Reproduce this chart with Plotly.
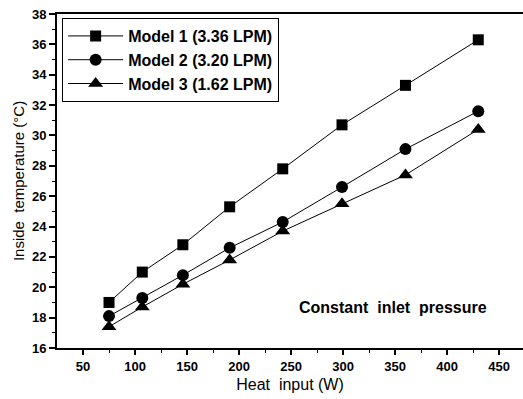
import plotly.graph_objects as go

heat_input = [75, 107, 146, 191, 242, 299, 360, 430]
model1 = [19.0, 21.0, 22.8, 25.3, 27.8, 30.7, 33.3, 36.3]
model2 = [18.1, 19.3, 20.8, 22.6, 24.3, 26.6, 29.1, 31.6]
model3 = [17.4, 18.7, 20.2, 21.8, 23.7, 25.5, 27.4, 30.4]
names = ["Model 1 (3.36 LPM)", "Model 2 (3.20 LPM)", "Model 3 (1.62 LPM)"]
symbols = ["square", "circle", "triangle-up"]
sizes = [11, 12, 13]

fig = go.Figure()
for name, ys, sym, sz in zip(names, [model1, model2, model3], symbols, sizes):
    fig.add_trace(go.Scatter(
        x=heat_input, y=ys, name=name, mode="lines+markers",
        line=dict(color="black", width=1),
        marker=dict(symbol=sym, size=sz, color="black"),
    ))

fig.add_annotation(
    text="<b>Constant \u00a0inlet \u00a0pressure</b>", x=348, y=18.7, xref="x", yref="y",
    showarrow=False, font=dict(family="Liberation Sans, Arial", size=16, color="black"),
)

fig.update_layout(
    width=523, height=399,
    margin=dict(l=57, r=0, t=14, b=51),
    paper_bgcolor="white", plot_bgcolor="white",
    font=dict(family="Liberation Sans, Arial", color="black"),
    showlegend=True,
    legend=dict(
        x=0.011, y=0.988, xanchor="left", yanchor="top",
        bordercolor="black", borderwidth=1, bgcolor="white",
        font=dict(size=16, family="Liberation Sans, Arial", weight="bold"),
        tracegroupgap=0, itemsizing="trace", itemwidth=55,
    ),
    xaxis=dict(
        range=[25, 473], showgrid=False, zeroline=False,
        showline=True, linecolor="black", linewidth=2, mirror=True,
        ticks="outside", ticklen=5, tickwidth=1.5, tickcolor="black",
        tickvals=[50, 100, 150, 200, 250, 300, 350, 400, 450],
        tickfont=dict(size=13, weight="bold"),
        minor=dict(tickvals=[75, 125, 175, 225, 275, 325, 375, 425], ticks="outside", ticklen=3, tickcolor="black", tickwidth=1),
        title=dict(text="Heat \u00a0input (W)", font=dict(size=16), standoff=6),
    ),
    yaxis=dict(
        range=[16, 38], showgrid=False, zeroline=False,
        showline=True, linecolor="black", linewidth=2, mirror=False,
        ticks="outside", ticklen=6, tickwidth=1.5, tickcolor="black",
        tickvals=list(range(16, 39, 2)),
        tickfont=dict(size=13, weight="bold"),
        minor=dict(dtick=1, ticks="outside", ticklen=3, tickcolor="black", tickwidth=1),
        title=dict(text="Inside \u00a0temperature (°C)", font=dict(size=15), standoff=4),
    ),
)

fig.write_html("out.html")
